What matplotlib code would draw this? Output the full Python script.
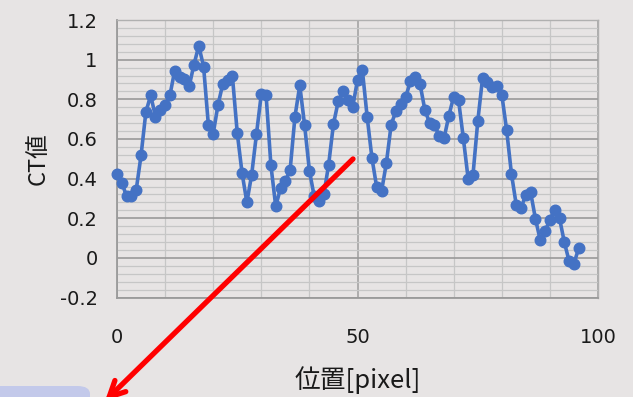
import matplotlib
matplotlib.use("Agg")
import matplotlib.pyplot as plt
from matplotlib.ticker import MultipleLocator, FixedLocator
from matplotlib.patches import FancyArrowPatch, FancyBboxPatch

plt.rcParams['font.family'] = ['Noto Sans CJK JP', 'DejaVu Sans']

positions = list(range(0, 97))
ct_values = [
    0.423, 0.38, 0.31, 0.31, 0.344, 0.517, 0.735, 0.82, 0.713, 0.747,
    0.77, 0.82, 0.945, 0.912, 0.90, 0.865, 0.975, 1.07, 0.965, 0.67,
    0.626, 0.772, 0.878, 0.898, 0.915, 0.63, 0.428, 0.28, 0.42, 0.625,
    0.826, 0.82, 0.466, 0.26, 0.352, 0.386, 0.445, 0.713, 0.87, 0.67,
    0.44, 0.31, 0.285, 0.32, 0.47, 0.675, 0.79, 0.843, 0.797, 0.76,
    0.898, 0.95, 0.713, 0.504, 0.355, 0.336, 0.478, 0.672, 0.742, 0.776,
    0.81, 0.89, 0.91, 0.877, 0.747, 0.68, 0.672, 0.613, 0.604, 0.718,
    0.814, 0.797, 0.604, 0.40, 0.416, 0.688, 0.907, 0.885, 0.86, 0.868,
    0.823, 0.646, 0.425, 0.268, 0.252, 0.319, 0.33, 0.196, 0.089, 0.134,
    0.193, 0.243, 0.2, 0.079, -0.017, -0.029, 0.05,
]

x_ticks = [0, 50, 100]
x_tick_labels = ["0", "50", "100"]
y_ticks = [-0.2, 0.0, 0.2, 0.4, 0.6, 0.8, 1.0, 1.2]
y_tick_labels = ["-0.2", "0", "0.2", "0.4", "0.6", "0.8", "1", "1.2"]
x_label = "位置[pixel]"
y_label = "CT値"

bg = "#e7e4e4"
fig = plt.figure(figsize=(6.33, 3.97), dpi=100, facecolor=bg)
ax = fig.add_axes([117 / 633, 1 - 297.5 / 397, (598 - 117) / 633, (297.5 - 20) / 397])
ax.set_facecolor(bg)

ax.set_xlim(0, 100)
ax.set_ylim(-0.2, 1.2)
ax.xaxis.set_major_locator(FixedLocator(x_ticks))
ax.set_xticklabels(x_tick_labels, family=['DejaVu Sans'])
ax.yaxis.set_major_locator(FixedLocator(y_ticks))
ax.set_yticklabels(y_tick_labels, family=['DejaVu Sans'])
ax.xaxis.set_minor_locator(MultipleLocator(10))
ax.yaxis.set_minor_locator(MultipleLocator(0.04))

ax.grid(which='major', axis='y', color='#999999', lw=1.2)
ax.grid(which='minor', axis='y', color='#c6c6c6', lw=0.9)
ax.grid(which='major', axis='x', color='#a4a4a4', lw=1.2)
ax.grid(which='minor', axis='x', color='#c6c6c6', lw=0.9)
ax.set_axisbelow(True)

for side in ['top', 'right']:
    ax.spines[side].set_color('#b0b0b0')
    ax.spines[side].set_linewidth(1.0)
for side in ['left', 'bottom']:
    ax.spines[side].set_color('#9a9a9a')
    ax.spines[side].set_linewidth(1.3)

ax.tick_params(which='both', length=0)
ax.tick_params(axis='x', pad=22, labelsize=14, colors='#1a1a1a')
ax.tick_params(axis='y', pad=14, labelsize=14, colors='#1a1a1a')

ax.plot(positions, ct_values, color='#4472C4', lw=2.6, marker='o',
        markersize=7.6, markerfacecolor='#4472C4', markeredgecolor='#4472C4',
        clip_on=False, zorder=3)

ax.set_xlabel(x_label, fontsize=18.5, color='#1a1a1a', labelpad=14)
ax.set_ylabel(y_label, fontsize=17, color='#1a1a1a', labelpad=7)

# slide decorations
box = FancyBboxPatch((-20 / 633, -20 / 397), 110 / 633, 31 / 397,
                     boxstyle="round,pad=0,rounding_size=0.02",
                     transform=fig.transFigure, facecolor='#c3c9ea',
                     edgecolor='none', zorder=5)
fig.patches.append(box)
arrow = FancyArrowPatch((355 / 633, 1 - 157 / 397), (103 / 633, 1 - 403 / 397),
                        transform=fig.transFigure, arrowstyle='->',
                        mutation_scale=28, color='#ff0000', lw=3.8, zorder=6)
fig.patches.append(arrow)

fig.savefig("out.png", dpi=100, facecolor=bg)
